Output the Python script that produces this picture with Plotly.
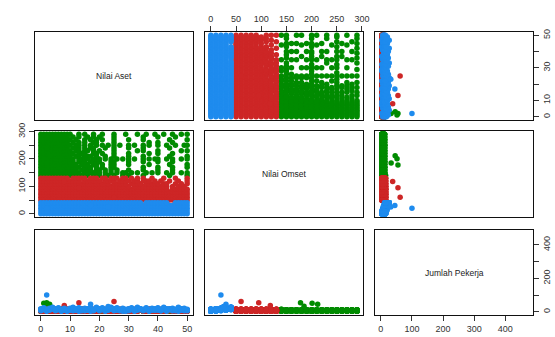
import plotly.graph_objects as go

W, H = 555, 337

var_names = ["Nilai Aset", "Nilai Omset", "Jumlah Pekerja"]

# ---- Data -----------------------------------------------------------------
# Each cluster: omset levels; for each level a string over Nilai Aset 0..50
# ('.' = no firm, digit d = firm with Jumlah Pekerja = 3*d)
blue_omset = [0, 10, 20, 30, 40]
blue_rows = [
    "2413524135 3241524135 2413523415 2413524135 3241523142 3",
    "3524635241 4635243526 3524635241 3526435243 5263452634 2",
    "4635746352 5746354637 4635746352 4637546354 6374563745 4",
    "5746857463 6857465748 5746857463 5748657465 7485674856 3",
    "6857968574 7968576859 6857968574 68596.8576 8596..5967 5",
]
red_omset = [50, 60, 70, 80, 90, 100, 110, 120, 130]
red_rows = [
    "3142531425 2143521432 5314213524 3125413254 2135421352 3",
    "2531425314 3521432153 4213521432 5213421532 1432513241 2",
    "4253142531 4325143215 3241523142 1352431524 3125431253 4",
    "1425314253 1432514321 5231425314 2531421352 4132514231 1",
    "3514253142 5132413524 1352413251 4213524132 5241.32514 3",
    "2142531425 3142513241 3524132514 2.31425314 2531.4.251 .",
    "4325142531 4251324135 2413.25142 .1425.1324 1.24..3.1. 2",
    "1253142531 2413.24135 2.1425.142 5.13.425.1 .3..2..4.. 1",
    "3142531425 .31425.142 .53.142.31 .2.4.3..2. ..1...3... 2",
]
green_omset = [140, 150, 160, 170, 180, 190, 200, 210, 220, 230, 240, 250, 260, 270, 280, 290]
green_rows = [
    "3424135243 2413524.31 3.41.3..2. 2....3.... ....2..... 2",
    "2431342413 2413.24312 3.2.4.3.12 .2.3..1.2. 3..1.2..3. 2",
    "4213243124 312.4312.4 2.3.4.1... 3....2.... 2....1.... .",
    "3142413243 2413.243.2 .4..31.... .....2.... 1....3.... 2",
    "2314231423 142.314.23 .4..23.... 3......1.. ....2..... 1",
    "4231423142 31.423.142 3...14.... 2....3.... 3....1.... .",
    "1324132413 24.3124.31 2.4.1.3.2. 3.1..2.3.1 2..3.1..2. 3",
    "3241324132 4.13.241.3 ..2..4.... 1....2.... ....3..... 2",
    "2413241324 13.241..32 .4...1.... 2......3.. 1....2.... .",
    "4132413241 3.24.13.2. 4....2.... ...1.3.... 3.......2. 2",
    "1423142314 .231.4.23. ..1..4.... 3....1.... ....2..... .",
    "3214321432 1.43.2.1.4 .3.2.1.4.. 2.4..3.1.. 3..2..1..2 2",
    "2143214321 .4.3.2..14 .....3.... .......2.. 1....3.... .",
    "4321432143 2.1..4.3.2 .1...4.... 2....3.... ....1..... 3",
    "1432143214 .3.2..1.4. 3....2.... .....1.... 2.....1... .",
    "3412341234 1..2.3..4. .1...3...2 ...1..2..3 ..2..3..1. 1",
]
# isolated firms (aset, omset, pekerja)
blue_extra_aset = [2, 17, 23]
blue_extra_omset = [20, 30, 25]
blue_extra_pek = [100, 45, 32]
red_extra_aset = [25, 13, 8]
red_extra_omset = [60, 95, 118]
red_extra_pek = [62, 55, 38]
green_extra_aset = [2, 1, 3, 2]
green_extra_omset = [178, 201, 212, 185]
green_extra_pek = [55, 52, 46, 33]

axis_ranges = [[-2, 52], [-11.6, 302], [-18.8, 489]]
colors = {"g": "#008B00", "r": "#CD2626", "b": "#1E8BEE"}


def decode(levels, rows, ea, eo, ep):
    a, o, p = [], [], []
    for lev, row in zip(levels, rows):
        for i, ch in enumerate(row.replace(" ", "")):
            if ch != ".":
                a.append(i)
                o.append(lev)
                p.append(int(ch) * 3)
    return a + ea, o + eo, p + ep


clusters = [
    ("g", decode(green_omset, green_rows, green_extra_aset, green_extra_omset, green_extra_pek)),
    ("r", decode(red_omset, red_rows, red_extra_aset, red_extra_omset, red_extra_pek)),
    ("b", decode(blue_omset, blue_rows, blue_extra_aset, blue_extra_omset, blue_extra_pek)),
]

# panel pixel boxes
col_px = [(35, 193), (205, 363), (375, 533)]
row_px = [(32, 120), (131, 217), (230, 315)]

fig = go.Figure()
font = dict(family="Liberation Sans, Arial, sans-serif", size=9, color="#333333")

layout = dict(
    template="none",
    width=W, height=H, margin=dict(l=0, r=0, t=0, b=0, pad=0),
    paper_bgcolor="white", plot_bgcolor="white", showlegend=False,
    font=font, annotations=[],
)

tick_cfg = {
    0: dict(vals=[0, 10, 20, 30, 40, 50], text=["0", "10", "20", "30", "40", "50"]),
    1: dict(vals=[0, 50, 100, 150, 200, 250, 300], text=["0", "50", "100", "150", "200", "250", "300"]),
    2: dict(vals=[0, 100, 200, 300, 400], text=["0", "100", "200", "300", "400"]),
}
ytick_text = {
    0: ["0", "10", "", "30", "", "50"],
    1: ["0", "", "100", "", "200", "", "300"],
    2: ["0", "", "200", "", "400"],
}

for r in range(3):
    for c in range(3):
        n = r * 3 + c + 1
        xs = "" if n == 1 else str(n)
        xd = [col_px[c][0] / W, col_px[c][1] / W]
        yd = [1 - row_px[r][1] / H, 1 - row_px[r][0] / H]
        base = dict(showgrid=False, zeroline=False, showline=True, mirror=True,
                    linecolor="#111111", linewidth=1, ticks="", showticklabels=False,
                    automargin=False, fixedrange=True)
        xa = dict(base, domain=xd, anchor="y" + xs, range=axis_ranges[c])
        ya = dict(base, domain=yd, anchor="x" + xs, range=axis_ranges[r])
        if (r == 2 and c in (0, 2)) or (r == 0 and c == 1):
            xa.update(ticks="outside", ticklen=5, tickcolor="#333333", showticklabels=True,
                      tickmode="array", tickvals=tick_cfg[c]["vals"], ticktext=tick_cfg[c]["text"],
                      side="top" if r == 0 else "bottom", tickfont=font)
        if (c == 2 and r in (0, 2)) or (c == 0 and r == 1):
            ya.update(ticks="outside", ticklen=5, tickcolor="#333333", showticklabels=True,
                      tickmode="array", tickvals=tick_cfg[r]["vals"], ticktext=ytick_text[r],
                      side="right" if c == 2 else "left", tickangle=-90, tickfont=font)
        layout["xaxis" + xs] = xa
        layout["yaxis" + xs] = ya
        if r == c:
            layout["annotations"].append(dict(
                text=var_names[r], xref="x" + xs + " domain", yref="y" + xs + " domain",
                x=0.5, y=0.5, showarrow=False,
                font=dict(family="Liberation Sans, Arial, sans-serif", size=8.5, color="#222222")))
            fig.add_trace(go.Scatter(x=[None], y=[None], xaxis="x" + xs, yaxis="y" + xs,
                                     mode="markers", hoverinfo="skip"))
        else:
            for key, (a, o, p) in clusters:
                vals = [a, o, p]
                fig.add_trace(go.Scatter(
                    x=vals[c], y=vals[r], xaxis="x" + xs, yaxis="y" + xs, mode="markers",
                    marker=dict(size=5.5, color=colors[key], line=dict(width=0)),
                    hoverinfo="skip"))

fig.update_layout(**layout)
fig.write_html("out.html", config={"displayModeBar": False},
               post_script="document.body.style.margin='0';document.body.style.overflow='hidden';")
